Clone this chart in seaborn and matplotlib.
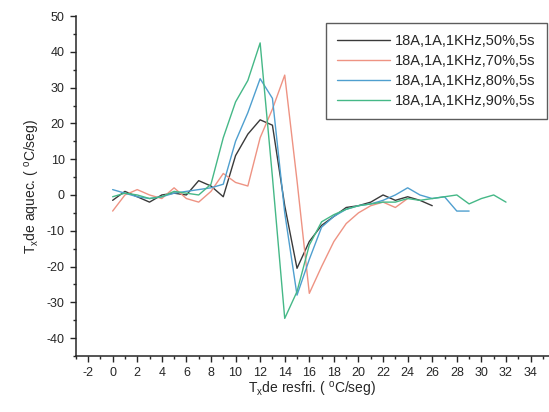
import numpy as np
import pandas as pd
import matplotlib
matplotlib.use("Agg")
import matplotlib.pyplot as plt
import seaborn as sns
from matplotlib.ticker import MultipleLocator

# ---- data ----
labels = ["18A,1A,1KHz,50%,5s", "18A,1A,1KHz,70%,5s",
          "18A,1A,1KHz,80%,5s", "18A,1A,1KHz,90%,5s"]

x50 = list(range(0, 27))
y50 = [-1.5, 1, -0.5, -2, 0, 0.5, 0, 4, 2.5, -0.5, 11, 17, 21, 19.5, -3,
       -20.5, -13, -8.5, -6, -3.5, -3, -2, 0, -1.5, -0.5, -1.5, -3]

x70 = list(range(0, 25))
y70 = [-4.5, 0, 1.5, 0, -1, 2, -1, -2, 1, 6, 3.5, 2.5, 16, 24, 33.5, 4,
       -27.5, -20, -13, -8, -5, -3, -2, -3.5, -1]

x80 = list(range(0, 30))
y80 = [1.5, 0.5, -0.5, -1, -0.5, 0.5, 1, 1.5, 2, 3, 15, 23, 32.5, 27, -5,
       -28, -18, -9, -6, -4, -3, -2.5, -1.5, 0, 2, 0, -1, -0.5, -4.5, -4.5]

x90 = list(range(0, 33))
y90 = [-0.5, 0.5, 0, -1, -0.5, 1, 0.5, 0, 3, 16, 26, 32, 42.5, 5, -34.5,
       -27, -14, -7.5, -5.5, -4, -3, -2.5, -2, -2, -1, -1.5, -1, -0.5, 0,
       -2.5, -1, 0, -2]

xs = [x50, x70, x80, x90]
ys = [y50, y70, y80, y90]
colors = ["#3a3a3a", "#ee9383", "#4f9fcf", "#45b887"]

df = pd.concat([pd.DataFrame({"x": x, "y": y, "serie": lab})
                for x, y, lab in zip(xs, ys, labels)], ignore_index=True)

# ---- plot ----
sns.set_style("ticks")
plt.rcParams['font.family'] = ['Liberation Sans', 'DejaVu Sans']
plt.rcParams['mathtext.default'] = 'regular'
plt.rcParams['axes.unicode_minus'] = False

fig = plt.figure(figsize=(5.49, 4.12), dpi=100)
ax = fig.add_axes([0.138, 0.136, 0.862, 0.825])

sns.lineplot(data=df, x="x", y="y", hue="serie", hue_order=labels,
             palette=dict(zip(labels, colors)), linewidth=1.0, ax=ax,
             estimator=None, sort=False)

ax.set_xlim(-3, 35.5)
ax.set_ylim(-45, 50)
ax.set_xticks(np.arange(-2, 35, 2))
ax.set_yticks(np.arange(-40, 51, 10))
ax.xaxis.set_minor_locator(MultipleLocator(1))
ax.yaxis.set_minor_locator(MultipleLocator(5))
ax.tick_params(which='major', direction='out', length=4, width=1,
               labelsize=9, pad=4)
ax.tick_params(which='minor', direction='out', length=2.5, width=1)
for s in ["top", "right"]:
    ax.spines[s].set_visible(False)
for s in ["left", "bottom"]:
    ax.spines[s].set_linewidth(1.1)

ax.set_xlabel(r"T$_{x}$de resfri. ( $^{o}$C/seg)", fontsize=10, labelpad=1)
ax.set_ylabel(r"T$_{x}$de aquec. ( $^{o}$C/seg)", fontsize=10, labelpad=3)

leg = ax.legend(loc="upper right", bbox_to_anchor=(1.0, 0.985),
                fontsize=10.5, frameon=True, fancybox=False,
                edgecolor="#333333", handlelength=3.6, handletextpad=0.4,
                borderpad=0.75, labelspacing=0.4, borderaxespad=0.15)
leg.get_frame().set_linewidth(1.0)

fig.savefig("out.png", dpi=100)
